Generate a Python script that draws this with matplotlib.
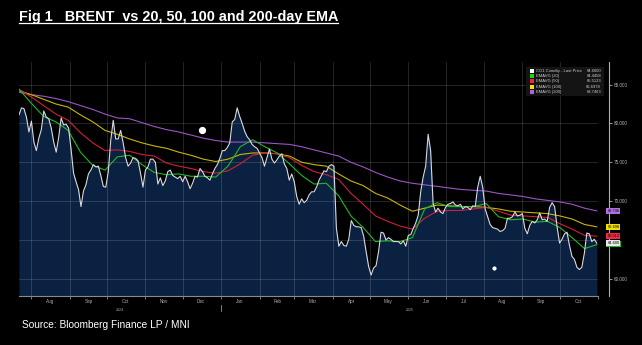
import matplotlib
matplotlib.use("Agg")
import matplotlib.pyplot as plt
import matplotlib.dates as mdates
import matplotlib.transforms as mtransforms
from matplotlib.lines import Line2D
from matplotlib.patches import Rectangle
import pandas as pd

# Brent front-month close, sampled every second calendar day from 22 Jul 2024
brent = [
    81.1, 82.0, 81.9, 80.8, 78.9, 80.3, 77.6, 76.5, 78.1, 79.2,
    81.6, 80.8, 80.6, 79.4, 77.6, 76.3, 78.2, 80.7, 79.8, 79.9,
    79.4, 76.7, 73.6, 72.5, 71.5, 69.3, 71.3, 72.1, 73.5, 74.0,
    74.7, 74.4, 74.5, 73.3, 71.9, 71.8, 73.8, 77.8, 80.4, 78.0,
    78.0, 79.1, 77.5, 75.6, 74.5, 74.9, 75.6, 75.5, 75.2, 73.6,
    71.8, 74.0, 74.4, 75.4, 75.4, 75.0, 72.2, 73.0, 72.0, 72.6,
    73.8, 74.0, 73.3, 73.1, 72.9, 73.2, 72.5, 73.2, 72.5, 71.6,
    72.3, 73.2, 73.1, 74.2, 73.8, 73.2, 73.0, 72.7, 73.5, 74.2,
    74.7, 75.5, 76.5, 76.5, 76.9, 77.5, 80.2, 80.5, 82.0, 80.9,
    80.0, 79.0, 78.3, 77.9, 77.3, 77.0, 76.8, 76.2, 75.6, 74.5,
    75.6, 76.7, 75.4, 74.9, 75.3, 75.8, 76.1, 74.8, 74.2, 72.7,
    73.5, 72.5, 70.6, 69.6, 70.3, 69.8, 70.1, 70.8, 71.2, 71.2,
    71.8, 72.7, 73.3, 73.9, 73.8, 74.5, 74.7, 74.5, 66.5, 64.2,
    64.8, 64.3, 64.2, 65.1, 67.5, 66.9, 66.7, 66.7, 66.6, 65.5,
    63.5, 61.6, 60.5, 61.4, 61.7, 63.5, 66.0, 65.9, 65.0, 65.3,
    65.1, 64.8, 64.8, 64.8, 64.5, 64.9, 64.2, 65.6, 65.7, 66.5,
    67.2, 68.2, 71.2, 73.1, 74.5, 78.6, 76.5, 69.7, 68.6, 69.1,
    68.6, 68.4, 69.2, 69.6, 69.7, 69.9, 69.5, 69.4, 69.6, 69.0,
    69.3, 69.2, 68.9, 69.4, 69.3, 71.8, 73.2, 71.8, 69.0, 68.0,
    67.0, 66.6, 66.5, 66.4, 66.1, 66.2, 66.5, 67.8, 67.8, 68.0,
    68.6, 68.1, 68.2, 68.4, 66.5, 65.8, 66.9, 67.4, 67.2, 67.6,
    68.5, 67.6, 67.7, 67.4, 69.2, 69.8, 69.3, 66.7, 64.6, 65.1,
    65.8, 66.0, 64.3, 62.9, 62.5, 61.5, 61.2, 61.5, 63.3, 65.9,
    65.8, 64.8, 65.1, 64.6,
]

# exponential moving averages, 48 evenly spaced readings over the same window
ema20 = [
    84.4, 82.6, 80.9, 80.2, 79.1, 76.3, 74.6, 74.0, 75.7, 75.9,
    74.7, 73.7, 73.4, 73.5, 73.2, 73.2, 73.1, 74.5, 77.0, 77.9,
    77.0, 76.2, 74.8, 73.3, 72.2, 72.3, 70.7, 68.1, 66.6, 64.8,
    64.9, 64.8, 65.3, 69.0, 69.8, 69.3, 69.3, 69.3, 69.7, 68.0,
    67.6, 67.7, 67.3, 67.4, 66.6, 65.3, 63.9, 64.4,
]
ema50 = [
    84.4, 83.4, 82.3, 81.2, 80.4, 78.8, 77.5, 76.5, 76.6, 76.4,
    76.0, 75.8, 74.9, 74.5, 74.2, 73.8, 73.6, 73.9, 74.8, 75.9,
    76.2, 76.1, 75.6, 74.6, 73.8, 73.4, 72.8, 71.0, 69.6, 68.1,
    67.4, 66.8, 66.4, 67.8, 68.7, 68.8, 68.8, 69.0, 69.2, 68.7,
    68.2, 68.1, 68.0, 67.9, 67.1, 66.4, 65.6, 65.5,
]
ema100 = [
    84.2, 83.7, 83.1, 82.5, 82.1, 81.1, 80.2, 79.1, 78.6, 78.0,
    77.5, 77.1, 76.8, 76.3, 75.9, 75.4, 75.1, 75.4, 76.0, 76.2,
    76.2, 76.1, 75.8, 75.0, 74.7, 74.5, 73.5, 72.6, 72.0, 71.0,
    70.4, 69.5, 68.7, 69.1, 69.5, 69.4, 69.3, 69.3, 69.2, 69.0,
    68.7, 68.6, 68.5, 68.4, 68.1, 67.7, 67.0, 66.7,
]
ema200 = [
    84.0, 83.7, 83.5, 83.2, 82.8, 82.3, 81.8, 81.2, 80.7, 80.6,
    80.1, 79.6, 79.2, 78.9, 78.5, 78.1, 77.8, 77.6, 77.6, 77.6,
    77.5, 77.4, 77.3, 77.0, 76.6, 76.2, 75.8, 75.0, 74.4, 73.7,
    73.1, 72.6, 72.3, 72.1, 71.9, 71.7, 71.5, 71.4, 71.3, 71.0,
    70.8, 70.6, 70.3, 70.1, 69.9, 69.6, 69.1, 68.75,
]

legend_names = ["CO1 Comdty - Last Price", "EMAVG (20)", "EMAVG (50)",
                "EMAVG (100)", "EMAVG (200)"]
last_values = [64.6000, 64.4458, 65.5123, 66.6978, 68.7463]
month_names = ["Aug", "Sep", "Oct", "Nov", "Dec", "Jan", "Feb", "Mar",
               "Apr", "May", "Jun", "Jul", "Aug", "Sep", "Oct"]
y_ticks = [60, 65, 70, 75, 80, 85]

price_dates = pd.date_range("2024-07-22", periods=len(brent), freq="2D")
ema_dates = pd.date_range("2024-07-22", "2025-10-31", periods=len(ema20))
month_starts = pd.date_range("2024-08-01", periods=len(month_names), freq="MS")

NAVY = "#0b2141"
C_PRICE = "#d9d9e0"
C_20 = "#22b822"
C_50 = "#d01f3c"
C_100 = "#c8b400"
C_200 = "#9a55c8"
GREY = "#b0b0b0"

plt.rcParams["font.family"] = ["Liberation Sans", "DejaVu Sans"]

fig = plt.figure(figsize=(6.42, 3.45), dpi=100, facecolor="black")
ax = fig.add_axes([19 / 642, 1 - 296 / 345, 579 / 642, 234 / 345])
ax.set_facecolor("black")

ax.fill_between(price_dates, brent, 50, color=NAVY, lw=0, zorder=0.5)
ax.plot(ema_dates, ema200, color=C_200, lw=0.8, zorder=2)
ax.plot(ema_dates, ema100, color=C_100, lw=0.8, zorder=2)
ax.plot(ema_dates, ema50, color=C_50, lw=0.8, zorder=2)
ax.plot(ema_dates, ema20, color=C_20, lw=0.8, zorder=2)
ax.plot(price_dates, brent, color=C_PRICE, lw=0.8, zorder=3)

# stray annotation dots
ax.plot([pd.Timestamp("2024-12-17")], [79.1], "o", color="white", ms=4.2, zorder=4)
ax.plot([pd.Timestamp("2025-08-09")], [61.4], "o", color="white", ms=2.0, zorder=4)

ax.set_xlim(pd.Timestamp("2024-07-22"), pd.Timestamp("2025-11-01"))
ax.set_ylim(57.8, 87.9)

# axes frame
for side in ["top", "left"]:
    ax.spines[side].set_visible(False)
ax.spines["bottom"].set_color("#8a8a8a")
ax.spines["bottom"].set_linewidth(0.8)
ax.spines["right"].set_position(("outward", 8))
ax.spines["right"].set_color(GREY)
ax.spines["right"].set_linewidth(0.8)

# y axis on the right; the 65 label sits under the value tags
ax.yaxis.tick_right()
ax.set_yticks(y_ticks)
ax.set_yticklabels(["" if v == 65 else "%.3f" % v for v in y_ticks])
ax.tick_params(axis="y", colors=GREY, labelsize=3.3, length=2, width=0.6, pad=1.5)

# month ticks at month starts, labels mid-month
ax.xaxis.set_major_locator(mdates.MonthLocator())
ax.xaxis.set_major_formatter(plt.NullFormatter())
ax.set_xticks(month_starts + pd.Timedelta(days=15), minor=True)
ax.set_xticklabels(month_names, minor=True)
ax.tick_params(axis="x", which="major", colors="#8a8a8a", length=2, width=0.6)
ax.tick_params(axis="x", which="minor", colors=GREY, length=0, labelsize=3.3, pad=2.5)

ax.grid(True, which="major", color="white", alpha=0.17, lw=0.6)
ax.set_axisbelow("line")

# year labels and year divider
xblend = mtransforms.blended_transform_factory(ax.transData, ax.transAxes)
ax.text(pd.Timestamp("2024-10-11"), -0.058, "2024", transform=xblend,
        fontsize=2.6, color=GREY, ha="center", va="center")
ax.text(pd.Timestamp("2025-06-02"), -0.058, "2025", transform=xblend,
        fontsize=2.6, color=GREY, ha="center", va="center")
ax.plot([pd.Timestamp("2025-01-01")] * 2, [-0.04, -0.065], transform=xblend,
        color=GREY, lw=0.5, clip_on=False)

# last-value tags on the right axis
yblend = mtransforms.blended_transform_factory(ax.transAxes, ax.transData)
tag_colors = ["#e8e8e8", C_20, "#ee2a48", "#f0e000", "#b070e0"]
tag_order = [1, 4, 3, 2, 0]
for i in tag_order:
    ax.text(1.016, last_values[i], "%.3f" % last_values[i], transform=yblend,
            fontsize=2.8, color="black", ha="left", va="center", zorder=6,
            bbox=dict(boxstyle="square,pad=0.25", fc=tag_colors[i], ec="none"))

# legend panel
fig.patches.append(Rectangle((526 / 642, 1 - 96 / 345), 78 / 642, 29 / 345,
                             transform=fig.transFigure, fc="#141414", ec="none",
                             zorder=5))
fig.add_artist(Line2D([527.5 / 642] * 2, [1 - 69 / 345, 1 - 93 / 345],
                      color=GREY, lw=0.4))
legend_colors = ["white", "#10e010", "#ff2040", "#ffe000", "#b060e0"]
for i, (name, val) in enumerate(zip(legend_names, last_values)):
    yy = 1 - (71 + i * 5.2) / 345
    fig.patches.append(Rectangle((530 / 642, yy - 2 / 345), 4 / 642, 4 / 345,
                                 transform=fig.transFigure, fc=legend_colors[i],
                                 ec="none", zorder=6))
    fig.text(536 / 642, yy, name, fontsize=3.0, color="#d0d0d0", va="center", zorder=7)
    fig.text(601 / 642, yy, "%.4f" % val, fontsize=3.0, color="#d0d0d0",
             va="center", ha="right", zorder=7)

# title with underline
title = fig.text(19 / 642, 1 - 17 / 345, "Fig 1   BRENT  vs 20, 50, 100 and 200-day EMA",
                 fontsize=10.4, fontweight="bold", color="white", va="center")
fig.canvas.draw()
bb = title.get_window_extent().transformed(fig.transFigure.inverted())
fig.add_artist(Line2D([bb.x0, bb.x1], [bb.y0 + 0.004, bb.y0 + 0.004],
                      color="white", lw=0.9))

fig.text(22 / 642, 1 - 325 / 345, "Source: Bloomberg Finance LP / MNI",
         fontsize=7.3, color="white", va="center")

fig.savefig("out.png", dpi=100, facecolor="black")
